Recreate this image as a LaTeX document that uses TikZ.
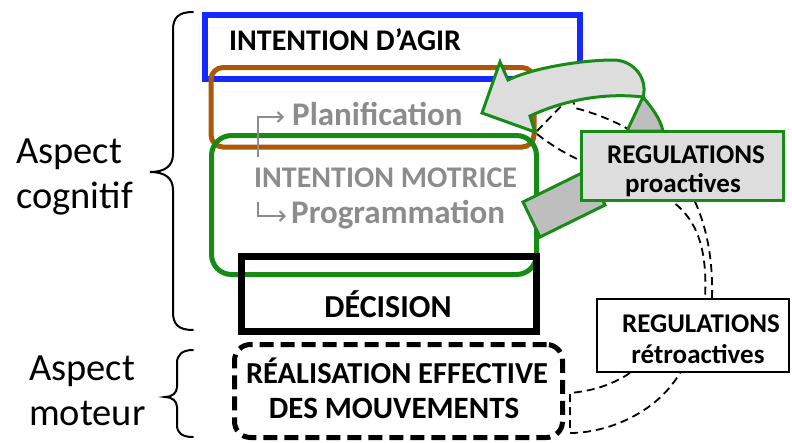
\documentclass[tikz,border=0pt]{standalone}
\usepackage{fontspec}
\setmainfont{Carlito}
\usetikzlibrary{arrows.meta}
\definecolor{boxblue}{RGB}{20,40,255}
\definecolor{boxbrown}{RGB}{172,88,8}
\definecolor{boxgreen}{RGB}{22,140,22}
\definecolor{softgray}{RGB}{140,140,140}
\definecolor{bandlight}{RGB}{221,221,221}
\definecolor{banddark}{RGB}{190,190,190}
\begin{document}
\begin{tikzpicture}[x=1pt,y=-1pt,
  frame/.style={draw, inner sep=0pt, outer sep=0pt},
  lbl/.style={inner sep=0pt, anchor=base west},
  clbl/.style={inner sep=0pt, anchor=base},
  hint/.style={draw=softgray, line width=2pt, -{Straight Barb[length=5pt,width=10pt,line width=2pt]}},
  loopline/.style={draw=black, line width=1.8pt, dash pattern=on 8pt off 5pt},
  band/.style={draw=boxgreen, line width=3pt, line join=miter},
  bracket/.style={draw=black, line width=2pt, line cap=round}]
\useasboundingbox (0,0) rectangle (792,442);

% feedback loops (behind everything else)
\coordinate (loopA) at (537,131);
\coordinate (loopB) at (572,95);
\coordinate (loopC) at (575,108);
\coordinate (loopD) at (712,298);
\coordinate (loopE) at (537,134);
\coordinate (loopF) at (705,298);
\draw[loopline] (loopA) -- (loopB) -- (loopC) .. controls (660,130) and (715,190) .. (loopD);
\draw[loopline] (loopE) .. controls (620,200) and (712,165) .. (loopF);
\coordinate (retA) at (630,373);
\coordinate (retB) at (570,393);
\coordinate (retC) at (570,433);
\coordinate (retD) at (680,373);
\draw[loopline] (retA) .. controls (612,385) and (592,391) .. (retB) -- (retC)
  .. controls (605,433) and (655,415) .. (retD);

% nested frames
\node[frame, draw=boxblue, line width=6pt, minimum width=375pt, minimum height=64pt] (agirbox) at (392.5,47) {};
\node[frame, draw=boxbrown, line width=5pt, rounded corners=12pt, minimum width=323pt, minimum height=79.5pt] (planbox) at (372.5,107.25) {};
\node[frame, draw=boxgreen, line width=5pt, rounded corners=20pt, minimum width=325pt, minimum height=139pt] (motbox) at (374,205) {};
\node[frame, draw=black, line width=7pt, minimum width=295pt, minimum height=75pt] (decbox) at (389,294) {};
\node[frame, draw=black, line width=5pt, dash pattern=on 14pt off 7pt, rounded corners=16pt, minimum width=328pt, minimum height=93pt] (realbox) at (398.5,391) {};

% texts of the frames
\node[lbl] (agir) at (229,50) {\fontsize{30}{35}\selectfont\bfseries INTENTION D’AGIR};
\node[lbl, text=softgray] (plan) at (292,125) {\fontsize{33}{38}\selectfont\bfseries Planification};
\node[lbl, text=softgray] (motrice) at (254,187) {\fontsize{30}{35}\selectfont\bfseries INTENTION MOTRICE};
\node[lbl, text=softgray] (prog) at (291,223) {\fontsize{33}{38}\selectfont\bfseries Programmation};
\node[clbl] (dec) at (388,317) {\fontsize{32}{38}\selectfont\bfseries DÉCISION};
\node[clbl] (real1) at (397,383) {\fontsize{30.5}{36}\selectfont\bfseries RÉALISATION EFFECTIVE};
\node[clbl] (real2) at (394,418) {\fontsize{31}{36}\selectfont\bfseries DES MOUVEMENTS};

% small corner arrows
\coordinate (planfoot) at (258,157);
\coordinate (planhead) at (284,117);
\draw[hint] (planfoot) |- (planhead);
\coordinate (progfoot) at (258,202);
\coordinate (proghead) at (286,216);
\draw[hint] (progfoot) |- (proghead);

% twisted block arrow of the proactive regulations
\path[band, fill=banddark] (523,202) -- (540,237) -- (605,205) -- (588,170) -- cycle;
\path[band, fill=bandlight] (643,97) .. controls (648,80) and (635,60) .. (613,60)
  .. controls (585,60) and (535,67) .. (508,80) -- (500,62) -- (482,113) -- (535,132)
  -- (530,116) .. controls (560,102) and (600,92) .. (643,97) -- cycle;
\path[band, fill=banddark] (627,131) -- (643,97) .. controls (652,108) and (660,118) .. (663,131) -- cycle;

% regulation boxes
\node[frame, draw=boxgreen, fill=bandlight, line width=3pt, minimum width=202pt, minimum height=69pt] (probox) at (682.5,166) {};
\node[clbl] (pro1) at (686,163) {\fontsize{27}{32}\selectfont\bfseries REGULATIONS};
\node[clbl] (pro2) at (683,192) {\fontsize{27}{32}\selectfont\bfseries proactives};
\node[frame, draw=black, fill=white, line width=2pt, minimum width=192pt, minimum height=73pt] (retbox) at (693,335.5) {};
\node[clbl] (ret1) at (701,332) {\fontsize{27}{32}\selectfont\bfseries REGULATIONS};
\node[clbl] (ret2) at (698,363) {\fontsize{27}{32}\selectfont\bfseries rétroactives};

% aspects and their braces
\node[lbl] (cog1) at (16,163) {\fontsize{38.5}{45}\selectfont Aspect};
\node[lbl] (cog2) at (16,208) {\fontsize{38.5}{45}\selectfont cognitif};
\node[lbl] (mot1) at (29,380) {\fontsize{38.5}{45}\selectfont Aspect};
\node[lbl] (mot2) at (29,425) {\fontsize{38.5}{45}\selectfont moteur};
\coordinate (cogtop) at (193,12);
\coordinate (cogtip) at (150,172);
\coordinate (cogbot) at (193,330);
\draw[bracket] (cogtop) .. controls (178,12) and (173,18) .. (173,30) -- (173,154)
  .. controls (173,166) and (165,172) .. (cogtip)
  .. controls (165,172) and (173,178) .. (173,190) -- (173,312)
  .. controls (173,324) and (178,330) .. (cogbot);
\coordinate (mottop) at (193,350);
\coordinate (mottip) at (165,397);
\coordinate (motbot) at (193,437);
\draw[bracket] (mottop) .. controls (182,350) and (177,355) .. (177,363) -- (177,387)
  .. controls (177,393) and (172,397) .. (mottip)
  .. controls (172,397) and (177,401) .. (177,407) -- (177,425)
  .. controls (177,433) and (182,437) .. (motbot);
\end{tikzpicture}
\end{document}
